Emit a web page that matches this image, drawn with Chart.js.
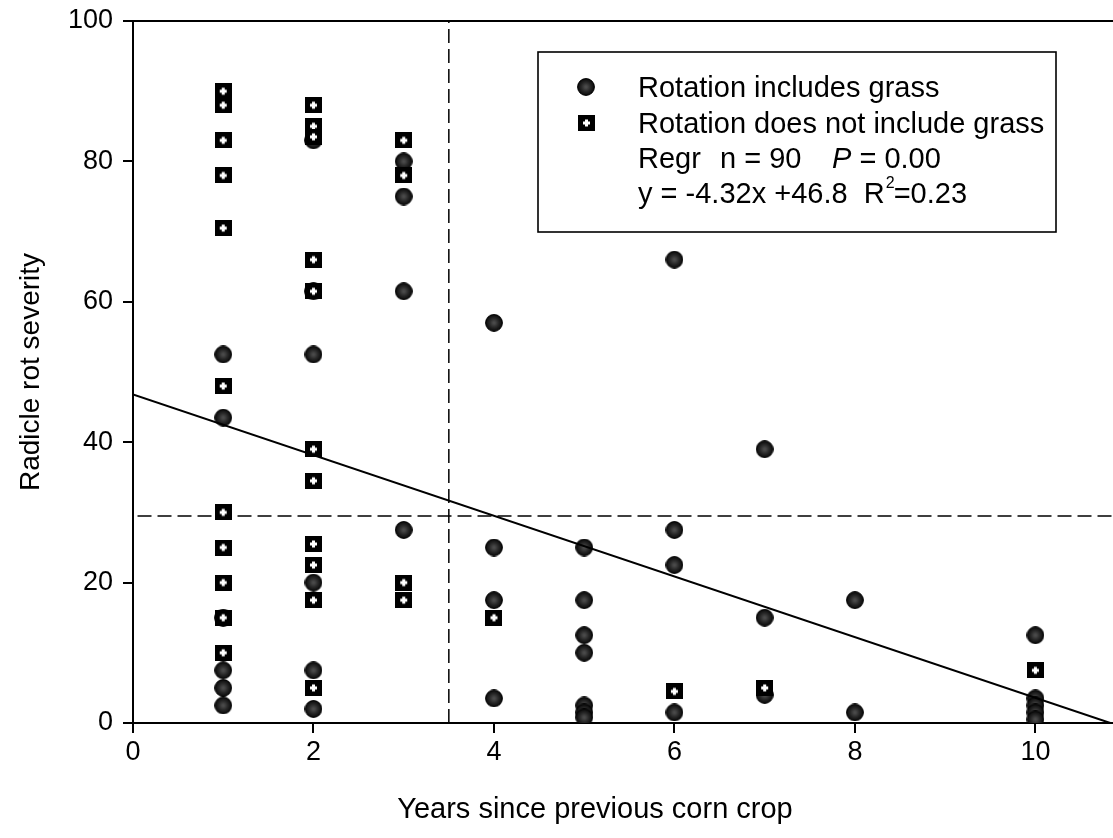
<!DOCTYPE html>
<html>
<head>
<meta charset="utf-8">
<script src="https://cdn.jsdelivr.net/npm/chart.js@4.4.0/dist/chart.umd.min.js"></script>
<style>
  html, body { margin: 0; padding: 0; background: #fff; overflow: hidden; }
  #wrap { width: 1113px; height: 838px; position: relative; }
  canvas { display: block; }
</style>
</head>
<body>
<div id="wrap"><canvas id="chart"></canvas></div>
<script>
// ===== values =====
// rotation includes grass (filled circles)
const grassX = [1, 1, 1, 1, 1, 1,
                2, 2, 2, 2, 2, 2,
                3, 3, 3, 3,
                4, 4, 4, 4,
                5, 5, 5, 5, 5, 5, 5,
                6, 6, 6, 6,
                7, 7, 7,
                8, 8,
                10, 10, 10, 10, 10];
const grassY = [52.5, 43.5, 15, 7.5, 5, 2.5,
                83, 61.5, 52.5, 20, 7.5, 2,
                80, 75, 61.5, 27.5,
                57, 25, 17.5, 3.5,
                25, 17.5, 12.5, 10, 2.5, 1.5, 0.8,
                66, 27.5, 22.5, 1.5,
                39, 15, 4,
                17.5, 1.5,
                12.5, 3.5, 2.5, 1.5, 0.5];

// rotation does not include grass (squares with a cross)
const noGrassX = [1, 1, 1, 1, 1, 1, 1, 1, 1, 1, 1,
                  2, 2, 2, 2, 2, 2, 2, 2, 2, 2, 2,
                  3, 3, 3, 3,
                  4, 6, 7, 10];
const noGrassY = [90, 88, 83, 78, 70.5, 48, 30, 25, 20, 15, 10,
                  88, 85, 83.5, 66, 61.5, 39, 34.5, 25.5, 22.5, 17.5, 5,
                  83, 78, 20, 17.5,
                  15, 4.5, 5, 7.5];

// regression y = -4.32x + 46.8, drawn to where it meets y = 0
const regrX = [0, 10.83];
const regrY = [46.8, 0];

// dashed threshold lines
const vLineX = [3.5, 3.5];
const vLineY = [0, 100];
const hLineX = [0.05, 10.9];
const hLineY = [29.5, 29.5];

const xTickValues = [0, 2, 4, 6, 8, 10];
const yTickValues = [0, 20, 40, 60, 80, 100];
const xMax = 10.86;

const FONT = "'Liberation Sans', Arial, Helvetica, sans-serif";

// marker images
function makeSquare() {
  const c = document.createElement("canvas");
  c.width = 17; c.height = 16;
  const g = c.getContext("2d");
  g.fillStyle = "#000";
  g.fillRect(0, 0, 17, 16);
  g.fillStyle = "#fff";
  g.fillRect(7, 4.5, 3, 7);
  g.fillRect(5, 6.5, 7, 3);
  return c;
}
function makeDot() {
  const c = document.createElement("canvas");
  c.width = 18; c.height = 18;
  const g = c.getContext("2d");
  const grad = g.createRadialGradient(9, 9, 1, 9, 9, 8.5);
  grad.addColorStop(0, "#4a4a4a");
  grad.addColorStop(0.5, "#262626");
  grad.addColorStop(1, "#080808");
  g.fillStyle = grad;
  g.beginPath(); g.arc(9, 9, 8.4, 0, Math.PI * 2); g.fill();
  g.strokeStyle = "#000"; g.lineWidth = 1;
  g.stroke();
  return c;
}
const squareImg = makeSquare();
const dotImg = makeDot();

const toPts = (xs, ys) => xs.map((x, i) => ({ x, y: ys[i] }));

// frame top line, legend box and x title
const decor = {
  id: "decor",
  afterDraw(chart) {
    const { ctx, chartArea } = chart;
    ctx.save();
    ctx.strokeStyle = "#000";
    ctx.lineWidth = 2;
    ctx.beginPath();
    ctx.moveTo(chartArea.left, chartArea.top);
    ctx.lineTo(chartArea.right, chartArea.top);
    ctx.stroke();

    // legend box
    ctx.fillStyle = "#fff";
    ctx.fillRect(538, 52, 518, 180);
    ctx.lineWidth = 1.6;
    ctx.strokeRect(538, 52, 518, 180);

    ctx.drawImage(dotImg, 586 - 9, 87 - 9);
    ctx.drawImage(squareImg, 586 - 8, 123 - 8);

    ctx.fillStyle = "#000";
    ctx.textBaseline = "alphabetic";
    ctx.textAlign = "left";
    ctx.font = "29px " + FONT;
    ctx.fillText("Rotation includes grass", 638, 97);
    ctx.fillText("Rotation does not include grass", 638, 133);
    ctx.fillText("Regr", 638, 168);
    ctx.fillText("n = 90", 720, 168);
    ctx.font = "italic 29px " + FONT;
    ctx.fillText("P", 832, 168);
    let px = 832 + ctx.measureText("P").width;
    ctx.font = "29px " + FONT;
    ctx.fillText(" = 0.00", px, 168);

    let s = "y = -4.32x +46.8  R";
    ctx.fillText(s, 638, 203);
    let rx = 638 + ctx.measureText(s).width;
    ctx.font = "16px " + FONT;
    ctx.fillText("2", rx + 1, 188);
    ctx.font = "29px " + FONT;
    ctx.fillText("=0.23", rx + 9, 203);

    // x axis title
    ctx.font = "29px " + FONT;
    ctx.textAlign = "center";
    ctx.fillText("Years since previous corn crop", 595, 818);
    ctx.restore();
  }
};

const ctx = document.getElementById("chart").getContext("2d");
new Chart(ctx, {
  type: "scatter",
  data: {
    datasets: [
      {
        label: "Regression",
        type: "line",
        data: toPts(regrX, regrY),
        borderColor: "#000",
        borderWidth: 2,
        pointRadius: 0,
        showLine: true,
        fill: false,
        order: 0
      },
      {
        label: "Rotation does not include grass",
        data: toPts(noGrassX, noGrassY),
        pointStyle: squareImg,
        pointRadius: 8,
        order: 1
      },
      {
        label: "Rotation includes grass",
        data: toPts(grassX, grassY),
        pointStyle: dotImg,
        pointRadius: 8,
        order: 2
      },
      {
        label: "vline",
        type: "line",
        data: toPts(vLineX, vLineY),
        borderColor: "#000",
        borderWidth: 1.5,
        borderDash: [14, 6],
        pointRadius: 0,
        showLine: true,
        order: 3
      },
      {
        label: "hline",
        type: "line",
        data: toPts(hLineX, hLineY),
        borderColor: "#000",
        borderWidth: 1.5,
        borderDash: [14, 6],
        pointRadius: 0,
        showLine: true,
        order: 3
      }
    ]
  },
  options: {
    responsive: true,
    maintainAspectRatio: false,
    animation: false,
    layout: { autoPadding: false, padding: { top: 21, right: 0, left: 0, bottom: 0 } },
    plugins: {
      legend: { display: false },
      tooltip: { enabled: false }
    },
    scales: {
      x: {
        type: "linear",
        min: 0,
        max: xMax,
        afterFit: s => { s.height = 115; s.paddingLeft = 0; s.paddingRight = 0; },
        afterBuildTicks: s => { s.ticks = xTickValues.map(v => ({ value: v })); },
        grid: { drawOnChartArea: false, tickLength: 10, color: "#000", lineWidth: 2 },
        border: { color: "#000", width: 2 },
        ticks: {
          padding: 3,
          color: "#000",
          maxRotation: 0,
          font: { size: 27, family: FONT }
        }
      },
      y: {
        min: 0,
        max: 100,
        afterFit: s => { s.width = 133; s.paddingTop = 0; s.paddingBottom = 0; },
        afterBuildTicks: s => { s.ticks = yTickValues.map(v => ({ value: v })); },
        grid: { drawOnChartArea: false, tickLength: 10, color: "#000", lineWidth: 2 },
        border: { color: "#000", width: 2 },
        ticks: {
          padding: 10,
          color: "#000",
          font: { size: 27, family: FONT }
        },
        title: {
          display: true,
          text: "Radicle rot severity",
          color: "#000",
          font: { size: 28, family: FONT },
          padding: { top: 14, bottom: 0 }
        }
      }
    }
  },
  plugins: [decor]
});
</script>
</body>
</html>
